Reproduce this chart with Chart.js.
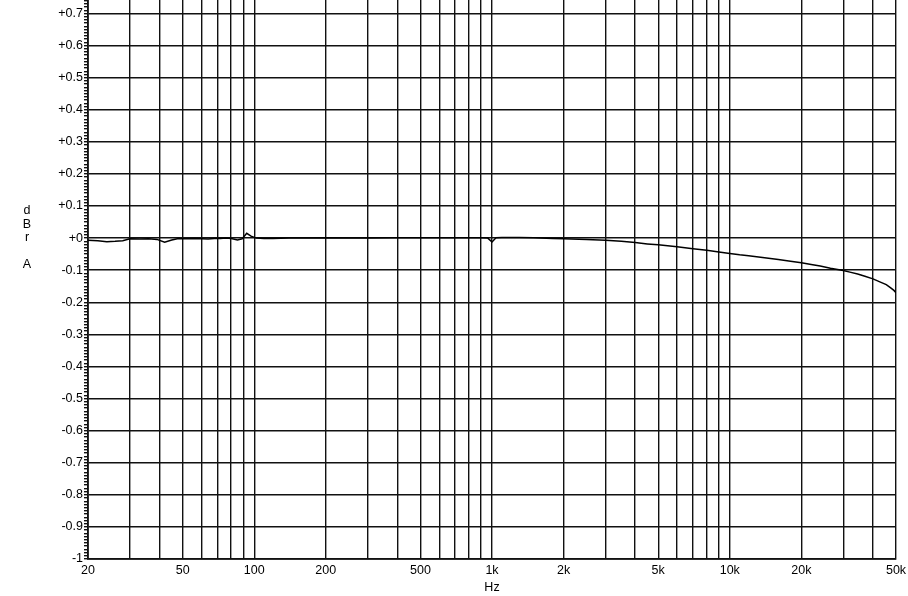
<!DOCTYPE html>
<html>
<head>
<meta charset="utf-8">
<script src="https://cdn.jsdelivr.net/npm/chart.js@4.4.1/dist/chart.umd.min.js"></script>
<style>
  html, body { margin: 0; padding: 0; background: #fff; }
  #wrap { position: relative; width: 908px; height: 596px; }
</style>
</head>
<body>
<div id="wrap"><canvas id="respGraph"></canvas></div>
<script>
// ------------- //
//  CHART DATA   //
// ------------- //

// Frequencies (Hz)
var freqs = [20, 22, 24, 26, 28, 30, 33, 36, 39, 42, 45, 48, 52, 56, 60, 64, 68, 72, 76, 80,
  85, 89, 93, 97, 102, 110, 120, 140, 170, 200, 250, 300, 400, 500, 600, 700, 800, 900,
  960, 1000, 1040, 1100, 1300, 1500, 1800, 2000, 2500, 3000, 3500, 4000, 4500, 5000, 6000,
  7000, 8000, 9000, 10000, 11000, 12000, 14000, 16000, 18000, 20000, 22000, 24000, 26500,
  30000, 32000, 34500, 37000, 40000, 43000, 45500, 47500, 49000, 50000];

// Level (dBrA) at each frequency
var levels = [-0.007, -0.008, -0.011, -0.010, -0.008, -0.002, -0.003, -0.002, -0.004, -0.013,
  -0.006, -0.001, -0.002, -0.001, -0.002, -0.003, -0.001, -0.001, 0, -0.001,
  -0.006, -0.002, 0.015, 0.006, 0, -0.001, -0.001, 0, 0, 0.001, 0, 0, 0.001, 0.001, 0.001, 0.001, 0.001, 0.001,
  0, -0.012, 0.001, 0.002, 0.002, 0.001, -0.001, -0.002, -0.004, -0.007, -0.010, -0.014, -0.018, -0.021, -0.027,
  -0.033, -0.038, -0.043, -0.048, -0.052, -0.055, -0.061, -0.067, -0.072, -0.077, -0.082, -0.087, -0.094,
  -0.101, -0.106, -0.112, -0.119, -0.127, -0.137, -0.145, -0.155, -0.163, -0.170];

// Vertical grid lines and which of them get a label
var xGrid = [20, 30, 40, 50, 60, 70, 80, 90, 100, 200, 300, 400, 500, 600, 700, 800, 900,
  1000, 2000, 3000, 4000, 5000, 6000, 7000, 8000, 9000, 10000, 20000, 30000, 40000, 50000];
var xLabelValues = [20, 50, 100, 200, 500, 1000, 2000, 5000, 10000, 20000, 50000];
var xLabelTexts = ["20", "50", "100", "200", "500", "1k", "2k", "5k", "10k", "20k", "50k"];

// Labelled horizontal lines
var yLabelValues = [-1, -0.9, -0.8, -0.7, -0.6, -0.5, -0.4, -0.3, -0.2, -0.1, 0, 0.1, 0.2, 0.3, 0.4, 0.5, 0.6, 0.7];
var yLabelTexts = ["-1", "-0.9", "-0.8", "-0.7", "-0.6", "-0.5", "-0.4", "-0.3", "-0.2", "-0.1",
  "+0", "+0.1", "+0.2", "+0.3", "+0.4", "+0.5", "+0.6", "+0.7"];

var yUnitLetters = ["d", "B", "r", "", "A"];

// ------------------ //
//  HELPER FUNCTIONS  //
// ------------------ //

var FONT = "'Liberation Sans', Arial, sans-serif";
var GRID = "#111";

// Is this tick one of the labelled 0.1 dB lines?
function isMajor(v)
{
  return Math.abs(v * 10 - Math.round(v * 10)) < 1e-6;
}

function yLabelFor(v)
{
  for (var i = 0; i < yLabelValues.length; i++) {
    if (Math.abs(yLabelValues[i] - v) < 1e-6) return yLabelTexts[i];
  }
  return "";
}

// Draws the stacked "dBrA" unit to the left of the axis
var unitPlugin = {
  id: "unitLetters",
  afterDraw: function (chart) {
    var ctx = chart.ctx;
    var ys = [211, 225, 238, 252, 265];
    ctx.save();
    ctx.fillStyle = "#000";
    ctx.font = "12.5px " + FONT;
    ctx.textAlign = "center";
    ctx.textBaseline = "middle";
    for (var i = 0; i < yUnitLetters.length; i++) {
      ctx.fillText(yUnitLetters[i], 27, ys[i]);
    }
    ctx.restore();
  }
};

// ----------- //
//  THE CHART  //
// ----------- //

var points = freqs.map(function (f, i) { return { x: f, y: levels[i] }; });

new Chart(document.getElementById("respGraph"), {
  type: "line",
  data: {
    datasets: [{
      data: points,
      borderColor: "#000",
      borderWidth: 1.5,
      pointRadius: 0,
      tension: 0,
      fill: false
    }]
  },
  plugins: [unitPlugin],
  options: {
    responsive: true,
    maintainAspectRatio: false,
    animation: false,
    layout: { padding: { left: 0, right: 12, top: 0, bottom: 0 } },
    plugins: {
      legend: { display: false },
      tooltip: { enabled: false }
    },
    scales: {
      x: {
        type: "logarithmic",
        min: 20,
        max: 50000,
        afterBuildTicks: function (scale) {
          scale.ticks = xGrid.map(function (v) { return { value: v }; });
        },
        afterFit: function (scale) {
          scale.height = 37;
          scale.paddingLeft = 0;
          scale.paddingRight = 0;
        },
        ticks: {
          autoSkip: false,
          maxRotation: 0,
          padding: 4,
          color: "#000",
          font: { family: FONT, size: 12.5 },
          callback: function (value) {
            var i = xLabelValues.indexOf(value);
            return i >= 0 ? xLabelTexts[i] : "";
          }
        },
        grid: { color: GRID, lineWidth: 1.4, drawTicks: false },
        border: { color: GRID, width: 1.8 },
        title: {
          display: true,
          text: "Hz",
          color: "#000",
          font: { family: FONT, size: 12.5 },
          padding: { top: 0, bottom: 1 }
        }
      },
      y: {
        type: "linear",
        min: -1,
        max: 0.742,
        afterBuildTicks: function (scale) {
          var t = [];
          for (var i = -100; i <= 74; i++) t.push({ value: i / 100 });
          scale.ticks = t;
        },
        afterFit: function (scale) {
          scale.width = 88;
          scale.paddingTop = 0;
          scale.paddingBottom = 0;
        },
        ticks: {
          autoSkip: false,
          padding: 1,
          color: "#000",
          font: { family: FONT, size: 12.5 },
          callback: function (value) { return yLabelFor(value); }
        },
        grid: {
          color: function (c) { return isMajor(c.tick.value) ? GRID : "rgba(0,0,0,0)"; },
          tickColor: GRID,
          tickLength: 4,
          lineWidth: 1.4
        },
        border: { color: GRID, width: 1.8 }
      }
    }
  }
});
</script>
</body>
</html>
